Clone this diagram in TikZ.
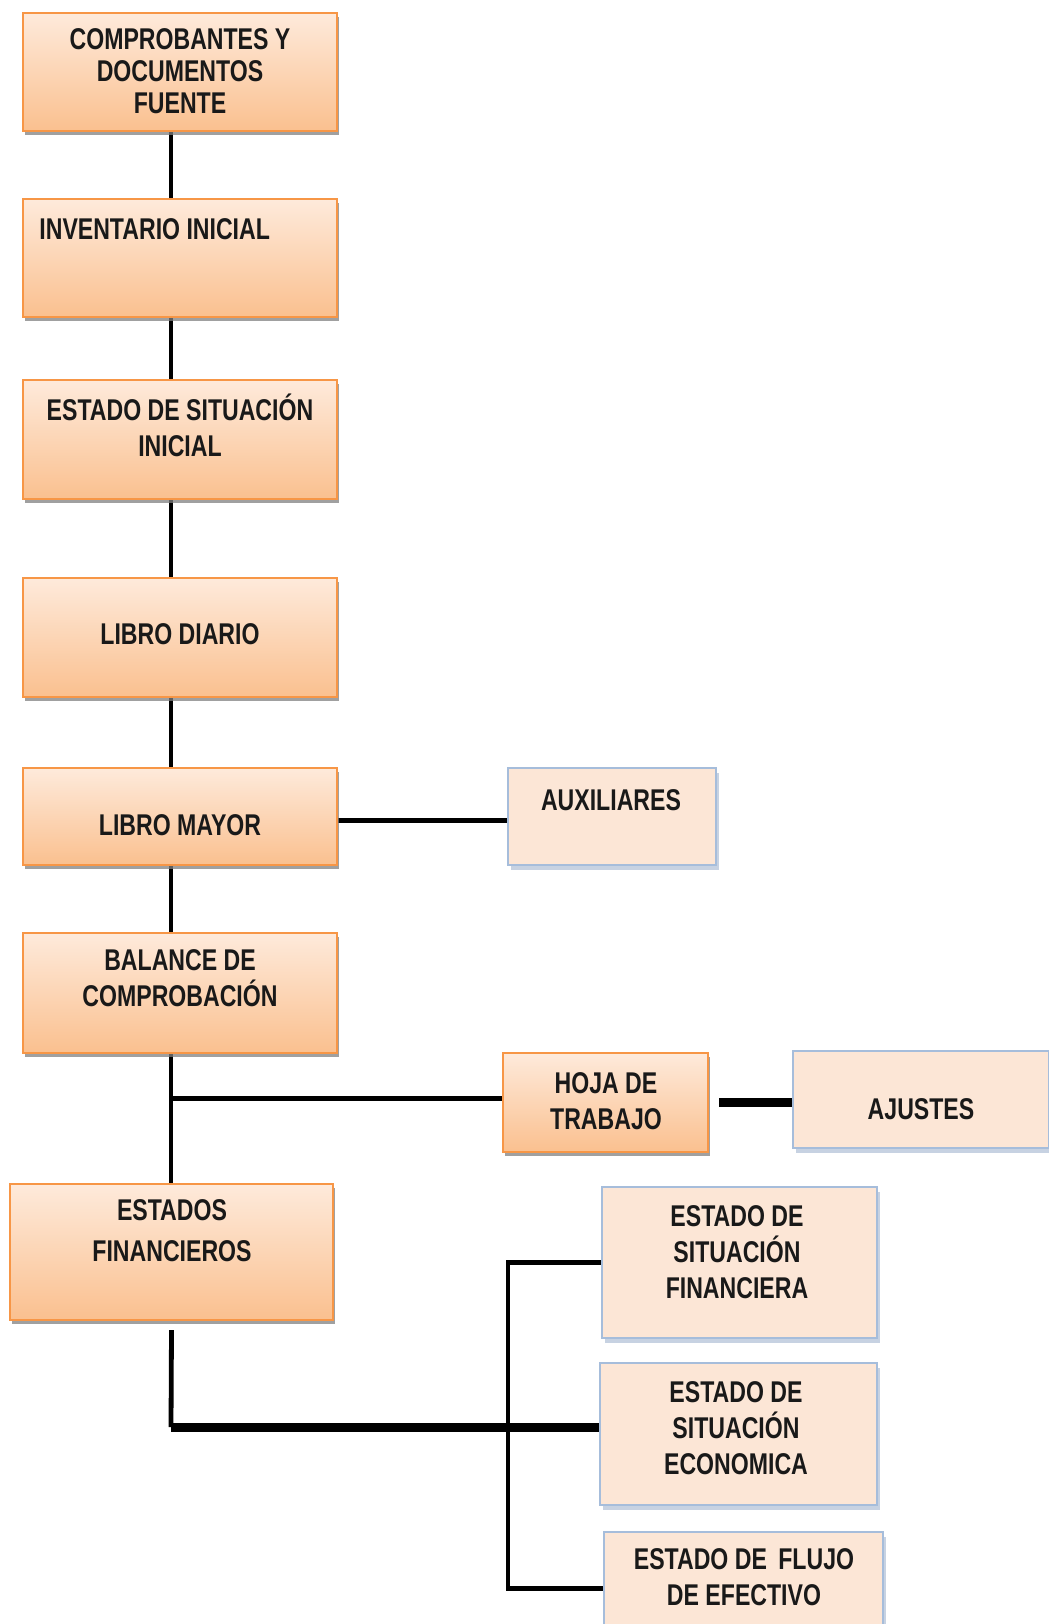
\documentclass[tikz,border=0pt]{standalone}
\usepackage{fontspec}
\newfontfamily\boxfont[FakeStretch=0.77]{Liberation Sans}
\usetikzlibrary{positioning,shadows,backgrounds}
\definecolor{orangeline}{HTML}{F79646}
\definecolor{orangetop}{HTML}{FEEADB}
\definecolor{orangebot}{HTML}{FAC08F}
\definecolor{peach}{HTML}{FCE6D6}
\definecolor{blueline}{HTML}{A6BDDB}
\definecolor{blueshadow}{HTML}{8FA6C6}
\tikzset{
  obox/.style={draw=orangeline, line width=1pt, top color=orangetop, bottom color=orangebot, inner sep=0pt,
    drop shadow={shadow xshift=1pt, shadow yshift=-2pt, fill=black!50, opacity=.75}},
  pbox/.style={draw=blueline, line width=1pt, fill=peach, inner sep=0pt,
    drop shadow={shadow xshift=1.5pt, shadow yshift=-2.5pt, fill=blueshadow}},
  lbl/.style={font=\boxfont\bfseries\fontsize{15}{18}\selectfont, text=black!90, align=center, inner sep=0pt},
  link/.style={line width=2.4pt},
  fatlink/.style={line width=4.5pt},
}
\begin{document}
\begin{tikzpicture}[x=0.5pt,y=0.5pt]
	\useasboundingbox (0,0) rectangle (1049,-1624);
	% main column
	\node[obox, minimum width=157pt, minimum height=59pt] (b1) at (180,-72) {};
	\node[obox, minimum width=157pt, minimum height=59pt] (b2) at (180,-258) {};
	\node[obox, minimum width=157pt, minimum height=59.5pt] (b3) at (180,-439.5) {};
	\node[obox, minimum width=157pt, minimum height=59.5pt] (b4) at (180,-637.5) {};
	\node[obox, minimum width=157pt, minimum height=48.5pt] (b5) at (180,-816.5) {};
	\node[obox, minimum width=157pt, minimum height=60pt] (b6) at (180,-993) {};
	\node[obox, minimum width=161.5pt, minimum height=68pt] (b7) at (171.5,-1252) {};
	% side boxes
	\node[pbox, minimum width=104pt, minimum height=48.5pt] (aux) at (612,-816.5) {};
	\node[obox, minimum width=102.5pt, minimum height=49.5pt] (hoja) at (605.5,-1102.5) {};
	\node[pbox, minimum width=128pt, minimum height=48.5pt] (aju) at (921,-1099.5) {};
	\node[pbox, minimum width=137.5pt, minimum height=75.5pt] (esf) at (739.5,-1262.5) {};
	\node[pbox, minimum width=138.5pt, minimum height=71pt] (ese) at (738.5,-1434) {};
	\node[pbox, minimum width=139.5pt, minimum height=56.5pt] (efe) at (743.5,-1588.5) {};
	% texts
	\node[lbl, font=\boxfont\bfseries\fontsize{15}{16}\selectfont] (t1) at (180,-71) {COMPROBANTES Y\\DOCUMENTOS\\FUENTE};
	\node[lbl, anchor=west] (t2) at (39,-229) {INVENTARIO INICIAL};
	\node[lbl] (t3) at (180,-425) {ESTADO DE SITUACIÓN\\INICIAL};
	\node[lbl] (t4) at (180,-634) {LIBRO DIARIO};
	\node[lbl] (t5) at (180,-825) {LIBRO MAYOR};
	\node[lbl] (t6) at (180,-978) {BALANCE DE\\COMPROBACIÓN};
	\node[lbl, font=\boxfont\bfseries\fontsize{15}{20.5}\selectfont] (t7) at (172,-1231) {ESTADOS\\FINANCIEROS};
	\node[lbl] (taux) at (611,-800) {AUXILIARES};
	\node[lbl] (thoja) at (606,-1101) {HOJA DE\\TRABAJO};
	\node[lbl] (taju) at (921,-1109) {AJUSTES};
	\node[lbl] (tesf) at (737,-1252) {ESTADO DE\\SITUACIÓN\\FINANCIERA};
	\node[lbl] (tese) at (736,-1428) {ESTADO DE\\SITUACIÓN\\ECONOMICA};
	\node[lbl] (tefe) at (744,-1577) {ESTADO DE\, FLUJO\\DE EFECTIVO};
	% connectors
	\coordinate (spine) at (171,0);
	\coordinate (bus) at (508,-1400);
	\coordinate (corner) at (171,-1427);
	\begin{scope}[on background layer]
		\draw[link] (b1.south -| spine) -- (b2.north -| spine);
		\draw[link] (b2.south -| spine) -- (b3.north -| spine);
		\draw[link] (b3.south -| spine) -- (b4.north -| spine);
		\draw[link] (b4.south -| spine) -- (b5.north -| spine);
		\draw[link] (b5.south -| spine) -- (b6.north -| spine);
		\draw[link] (b6.south -| spine) -- (b7.north -| spine);
		\draw[link] ([yshift=-2pt]b5.east) -- ([yshift=-2pt]b5.east -| aux.west);
		\draw[link] ([yshift=2pt]hoja.west -| spine) -- ([yshift=2pt]hoja.west);
		\draw[fatlink] ([xshift=5pt]hoja.east) -- (hoja.east -| aju.west);
		\draw[link] ([yshift=-4.5pt]b7.south) -- (corner);
		\draw[fatlink] (corner) -- (corner -| ese.west);
		\draw[link] (esf.west) -| (bus |- efe.west) -- (efe.west);
	\end{scope}
\end{tikzpicture}
\end{document}
